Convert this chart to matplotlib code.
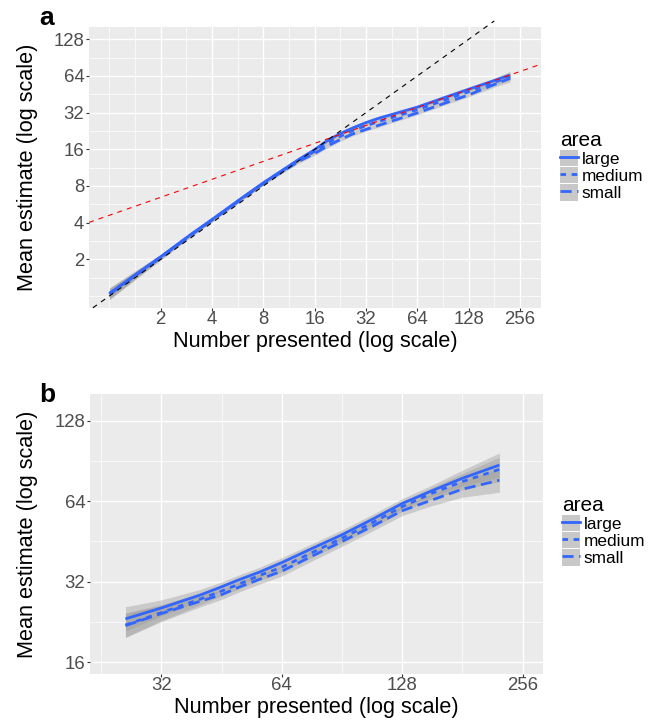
import numpy as np
import matplotlib
matplotlib.use('Agg')
import matplotlib.pyplot as plt
from matplotlib.lines import Line2D
from matplotlib.patches import Patch
from matplotlib.ticker import FixedLocator, NullFormatter

plt.rcParams['font.family'] = ['Liberation Sans', 'DejaVu Sans']

# ---------------- data ----------------
series_names = ['large', 'medium', 'small']

# Panel a: smoothed mean estimate vs number presented (all numbers)
a_x = [1, 1.5, 2, 3, 4, 6, 8, 11, 13, 16, 19, 22.7, 27, 32, 38.4, 45, 64, 90, 128, 180, 224]
a_large = [1.05, 1.58, 2.1, 3.2, 4.25, 6.4, 8.5, 11.4, 13.3, 15.9, 18.9, 21.6, 24.1, 26.5, 28.9, 30.8, 35.5, 42.0, 49.8, 58.5, 65.2]
a_medium = [1.05, 1.57, 2.09, 3.18, 4.22, 6.35, 8.45, 11.3, 13.1, 15.4, 18.0, 20.5, 22.9, 25.0, 27.2, 29.0, 33.8, 40.0, 47.5, 56.5, 63.3]
a_small = [1.03, 1.55, 2.07, 3.15, 4.2, 6.3, 8.4, 11.1, 12.8, 14.8, 17.0, 19.3, 21.5, 23.3, 25.3, 27.2, 31.8, 37.7, 44.7, 54.2, 61.3]
a_band = [0.15, 0.10, 0.07, 0.05, 0.05, 0.05, 0.05, 0.05, 0.05, 0.05, 0.05, 0.05, 0.05, 0.05, 0.05, 0.05, 0.05, 0.05, 0.05, 0.07, 0.10]
a_xticks = [2, 4, 8, 16, 32, 64, 128, 256]
a_yticks = [2, 4, 8, 16, 32, 64, 128]

# Panel b: larger numbers only
b_x = [26, 32, 40, 45.25, 50, 56.5, 64, 76, 90.5, 108, 128, 152, 181, 224]
b_large = [23.2, 25.5, 28.5, 30.6, 32.5, 34.8, 37.7, 42.5, 47.9, 54.8, 62.7, 70.0, 77.9, 87.3]
b_medium = [22.0, 24.5, 27.5, 29.5, 31.3, 33.8, 36.2, 41.0, 46.5, 53.2, 61.0, 68.5, 75.7, 84.1]
b_small = [21.9, 24.3, 27.0, 28.6, 30.5, 32.7, 35.0, 39.8, 45.2, 51.6, 58.9, 64.6, 70.9, 76.6]
b_band = [0.15, 0.10, 0.07, 0.06, 0.06, 0.06, 0.06, 0.06, 0.06, 0.06, 0.06, 0.07, 0.10, 0.15]
b_xticks = [32, 64, 128, 256]
b_yticks = [16, 32, 64, 128]

# reference lines in panel a
identity_x = [0.8, 181]            # y = x
power_coef, power_exp = 4.6, 0.49  # y = coef * x^exp

# ---------------- style ----------------
BLUE = '#3366FF'
W, H = 656, 720
fig = plt.figure(figsize=(W / 100, H / 100), dpi=100)

def px_axes(left, top, right, bottom):
    return fig.add_axes([left / W, 1 - bottom / H, (right - left) / W, (bottom - top) / H])

def minor_positions(ticks, lim):
    L = np.log2(ticks)
    d = L[1] - L[0]
    ext = np.concatenate([[L[0] - d], L, [L[-1] + d]])
    mids = (ext[:-1] + ext[1:]) / 2
    pos = np.concatenate([mids, ext])
    pos = pos[~np.isin(pos, L)]
    lo, hi = np.log2(lim)
    pos = pos[(pos > lo) & (pos < hi)]
    return 2.0 ** np.sort(pos)

def style(ax, xlim, ylim, xticks, yticks):
    ax.set_xscale('log', base=2)
    ax.set_yscale('log', base=2)
    ax.set_xlim(xlim)
    ax.set_ylim(ylim)
    ax.set_facecolor('#EBEBEB')
    for s in ax.spines.values():
        s.set_visible(False)
    ax.xaxis.set_major_locator(FixedLocator(xticks))
    ax.yaxis.set_major_locator(FixedLocator(yticks))
    ax.set_xticklabels([str(t) for t in xticks])
    ax.set_yticklabels([str(t) for t in yticks])
    ax.xaxis.set_minor_locator(FixedLocator(minor_positions(xticks, xlim)))
    ax.yaxis.set_minor_locator(FixedLocator(minor_positions(yticks, ylim)))
    ax.xaxis.set_minor_formatter(NullFormatter())
    ax.yaxis.set_minor_formatter(NullFormatter())
    ax.grid(which='major', color='white', lw=1.0)
    ax.grid(which='minor', color='white', lw=0.5)
    ax.set_axisbelow(True)
    ax.tick_params(which='minor', length=0)
    ax.tick_params(which='major', length=2.2, width=0.8, color='#333333',
                   labelcolor='#4D4D4D', labelsize=13.4, pad=0.3)
    ax.tick_params(axis='y', which='major', pad=1.2)

dash_styles = [None, (2, 2), (4, 2)]

def draw_smooth(ax, x, ys, band):
    x = np.asarray(x, float)
    hw = 2.0 ** np.asarray(band, float)
    for y, dash in zip(ys, dash_styles):
        y = np.asarray(y, float)
        ax.fill_between(x, y / hw, y * hw, color='#999999', alpha=0.4, lw=0)
        ln, = ax.plot(x, y, color=BLUE, lw=2.0, solid_capstyle='butt',
                      dash_capstyle='butt', solid_joinstyle='round')
        if dash is not None:
            ln.set_dashes(dash)

def add_legend(x_px, y_px):
    handles = []
    for dash in dash_styles:
        kw = dict(color=BLUE, lw=2.0, dash_capstyle='butt')
        if dash is not None:
            kw['dashes'] = dash
        handles.append((Patch(facecolor='#C8C8C8', edgecolor='none'), Line2D([], [], **kw)))
    fig.legend(handles, series_names, title='area', loc='upper left',
               bbox_to_anchor=(x_px / W, 1 - y_px / H), bbox_transform=fig.transFigure,
               frameon=False, fontsize=12.4, title_fontsize=15,
               handlelength=1.05, handleheight=1.09, labelspacing=0,
               handletextpad=0.2, borderpad=0, borderaxespad=0, alignment='left')

# ---------------- panel a ----------------
axa = px_axes(89, 27, 541, 308)
a_xlim, a_ylim = (0.759, 340), (0.797, 161.4)
style(axa, a_xlim, a_ylim, a_xticks, a_yticks)
draw_smooth(axa, a_x, [a_large, a_medium, a_small], a_band)
px = np.geomspace(a_xlim[0], a_xlim[1], 50)
axa.plot(px, power_coef * px ** power_exp, color='red', lw=0.8, dashes=(4.5, 4.5))
axa.plot(identity_x, identity_x, color='black', lw=0.8, dashes=(4.5, 4.5), clip_on=False)
axa.set_xlabel('Number presented (log scale)', fontsize=15.6, va='center')
axa.set_ylabel('Mean estimate (log scale)', fontsize=15.6, va='center')
axa.xaxis.set_label_coords(0.5, (308 - 341) / (308 - 27))
axa.yaxis.set_label_coords((27 - 89) / (541 - 89), 0.5)
fig.text(39 / W, 1 - 25 / H, 'a', fontsize=19, fontweight='bold', ha='left', va='baseline')
add_legend(560, 131)

# ---------------- panel b ----------------
axb = px_axes(90, 394, 543, 674)
b_xlim, b_ylim = (21.2, 288), (14.43, 161)
style(axb, b_xlim, b_ylim, b_xticks, b_yticks)
draw_smooth(axb, b_x, [b_large, b_medium, b_small], b_band)
axb.set_xlabel('Number presented (log scale)', fontsize=15.6, va='center')
axb.set_ylabel('Mean estimate (log scale)', fontsize=15.6, va='center')
axb.xaxis.set_label_coords(0.5, (674 - 707) / (674 - 394))
axb.yaxis.set_label_coords((27 - 90) / (543 - 90), 0.5)
fig.text(39 / W, 1 - 402 / H, 'b', fontsize=19, fontweight='bold', ha='left', va='baseline')
add_legend(562, 496)

fig.savefig('out.png', dpi=100)
